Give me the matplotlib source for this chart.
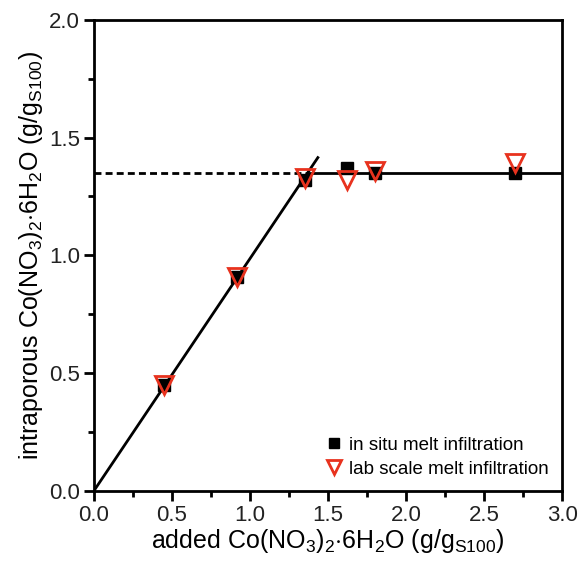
import matplotlib
matplotlib.use("Agg")
import matplotlib.pyplot as plt
from matplotlib.ticker import MultipleLocator

plt.rcParams['font.family'] = ['Liberation Sans', 'DejaVu Sans']
plt.rcParams['mathtext.fontset'] = 'custom'
plt.rcParams['mathtext.rm'] = 'Liberation Sans'
plt.rcParams['mathtext.it'] = 'Liberation Sans:italic'

# measured data
insitu_x = [0.45, 0.92, 1.35, 1.62, 1.80, 2.70]
insitu_y = [0.45, 0.91, 1.32, 1.37, 1.35, 1.35]
lab_x = [0.45, 0.92, 1.35, 1.62, 1.80, 2.70]
lab_y = [0.45, 0.91, 1.33, 1.32, 1.36, 1.39]

# fit lines
slope_x = [0.0, 1.435]
slope_y = [0.0, 1.415]
plateau = 1.35
plateau_dash_x = [0.0, 1.37]
plateau_solid_x = [1.37, 3.0]

fig = plt.figure(figsize=(5.79, 5.65), dpi=100)
ax = fig.add_axes([0.162, 0.131, 0.809, 0.834])

ax.plot(slope_x, slope_y, color='black', lw=2, zorder=2)
ax.plot(plateau_dash_x, [plateau, plateau], color='black', lw=2, ls=(0, (2.5, 1.5)), zorder=2)
ax.plot(plateau_solid_x, [plateau, plateau], color='black', lw=2, zorder=2)

ax.plot(insitu_x, insitu_y, ls='none', marker='s', ms=9, color='black',
        label='in situ melt infiltration', zorder=3)
ax.plot(lab_x, lab_y, ls='none', marker='v', ms=12.5, mfc='none', mec='#e8321e',
        mew=2, label='lab scale melt infiltration', zorder=4)

ax.set_xlim(0, 3.0)
ax.set_ylim(0, 2.0)
ax.xaxis.set_major_locator(MultipleLocator(0.5))
ax.xaxis.set_minor_locator(MultipleLocator(0.25))
ax.yaxis.set_major_locator(MultipleLocator(0.5))
ax.yaxis.set_minor_locator(MultipleLocator(0.25))
ax.tick_params(which='both', direction='out', width=2, labelsize=16, colors='black')
ax.tick_params(which='major', length=7, pad=3)
ax.tick_params(which='minor', length=4)
ax.tick_params(axis='both', labelcolor='#222222')
for s in ax.spines.values():
    s.set_linewidth(2)

ax.set_xlabel(r'added Co(NO$_3$)$_2$$\cdot$6H$_2$O (g/g$_{\mathrm{S100}}$)', fontsize=18, labelpad=1)
ax.set_ylabel(r'intraporous Co(NO$_3$)$_2$$\cdot$6H$_2$O (g/g$_{\mathrm{S100}}$)', fontsize=18, labelpad=3)

ax.legend(loc='lower right', frameon=False, fontsize=13.5, handletextpad=0.45,
          borderaxespad=0.3, handlelength=0.7, labelspacing=0.38, markerscale=0.8)

fig.savefig('out.png', dpi=100)
